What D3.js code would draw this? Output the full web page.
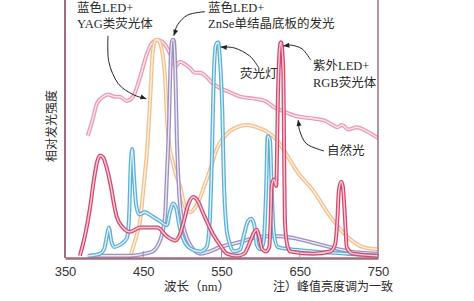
<!DOCTYPE html>
<html>
<head>
<meta charset="utf-8">
<script src="https://cdn.jsdelivr.net/npm/d3@7/dist/d3.min.js"></script>
<style>
  body { margin: 0; background: #fff; }
  svg { display: block; }
</style>
</head>
<body>
<svg id="chart" width="474" height="301"></svg>
<script>
// wavelength (nm), relative intensity (peak = 1)
var xTicks = [350, 450, 550, 650, 750];

var naturalLight = [[379,0.56],[385,0.63],[391,0.71],[399,0.74],[405,0.75],[414,0.74],[420,0.74],[429,0.72],
  [437,0.74],[446,0.83],[455,0.94],[462,0.99],[468,1.00],[475,0.99],[484,0.94],[491,0.88],[497,0.90],[503,0.89],
  [510,0.87],[516,0.85],[523,0.85],[531,0.83],[539,0.80],[548,0.78],[561,0.76],[574,0.74],[593,0.73],[606,0.72],
  [618,0.69],[631,0.67],[646,0.65],[667,0.64],[682,0.63],[692,0.61],[698,0.60],[704,0.61],[712,0.59],[723,0.60],
  [736,0.58],[750,0.55]];

var yagLed = [[433,0.00],[437,0.05],[442,0.11],[446,0.17],[450,0.31],[455,0.50],[459,0.74],[462,0.94],[466,1.00],
  [469,1.00],[472,0.98],[475,0.93],[478,0.82],[480,0.66],[483,0.52],[487,0.45],[492,0.38],[497,0.33],[503,0.24],
  [510,0.21],[516,0.23],[523,0.28],[529,0.34],[535,0.40],[544,0.50],[557,0.57],[570,0.60],[583,0.61],[595,0.60],
  [608,0.58],[621,0.54],[634,0.47],[646,0.40],[667,0.31],[689,0.19],[710,0.10],[731,0.05],[749,0.04]];

var znseLed = [[379,0.01],[408,0.01],[433,0.01],[452,0.02],[462,0.03],[469,0.06],[474,0.11],[478,0.20],[480,0.36],
  [483,0.63],[485,0.91],[487,1.00],[489,1.00],[491,0.86],[493,0.54],[496,0.29],[500,0.17],[506,0.09],[514,0.04],
  [523,0.02],[535,0.03],[548,0.05],[570,0.07],[590,0.09],[606,0.10],[625,0.10],[644,0.09],[667,0.07],[689,0.05],
  [714,0.03],[749,0.02]];

var fluorescent = [[382,0.01],[395,0.02],[400,0.04],[404,0.11],[406,0.14],[409,0.08],[413,0.05],[420,0.06],
  [429,0.09],[432,0.20],[434,0.43],[436,0.50],[438,0.38],[441,0.24],[445,0.20],[452,0.21],[462,0.19],[471,0.17],
  [480,0.15],[484,0.21],[488,0.25],[492,0.23],[496,0.15],[502,0.08],[512,0.04],[523,0.03],[531,0.05],[535,0.17],
  [538,0.50],[540,0.82],[543,0.98],[546,0.99],[548,0.91],[551,0.68],[553,0.36],[556,0.15],[560,0.07],[566,0.03],
  [574,0.04],[579,0.11],[584,0.17],[588,0.18],[592,0.15],[595,0.06],[600,0.04],[604,0.08],[607,0.31],[609,0.56],
  [612,0.54],[614,0.33],[617,0.11],[622,0.05],[638,0.04],[667,0.03],[710,0.02],[749,0.01]];

var uvRgbLed = [[369,0.01],[376,0.11],[382,0.23],[387,0.36],[391,0.44],[395,0.47],[399,0.46],[402,0.43],[408,0.34],
  [413,0.24],[416,0.19],[424,0.14],[433,0.12],[446,0.14],[455,0.14],[468,0.14],[480,0.10],[491,0.08],[497,0.11],
  [502,0.17],[507,0.24],[514,0.28],[520,0.26],[526,0.21],[531,0.17],[539,0.11],[548,0.06],[557,0.02],[570,0.01],
  [579,0.02],[586,0.07],[592,0.12],[595,0.13],[598,0.10],[602,0.04],[607,0.03],[611,0.05],[613,0.20],[614,0.33],
  [617,0.36],[620,0.33],[621,0.50],[622,0.72],[625,0.98],[626,0.99],[629,0.86],[630,0.50],[631,0.17],[634,0.06],
  [638,0.03],[667,0.02],[689,0.03],[695,0.06],[698,0.17],[700,0.31],[703,0.35],[705,0.33],[708,0.17],[710,0.05],
  [718,0.02],[749,0.01]];

// leader lines for the callouts, same units as the data
var arrowYag = [[405,1.02],[406,0.90],[418,0.80],[437,0.75],[454,0.73]];
var arrowZnse = [[529,1.13],[507,1.115],[494,1.07],[489,1.02]];
var arrowLamp = [[597,0.876],[586,0.927],[567,0.963],[549,0.968]];
var arrowUv = [[664,0.908],[653,0.959],[638,0.977],[629,0.972]];
var arrowSun = [[681,0.491],[659,0.523],[650,0.583],[648,0.633]];

var series = [
  {data: naturalLight, outer: "#e89bb3", inner: "#fbe6ed"},
  {data: yagLed, outer: "#f1c08e", inner: "#fdf1e2"},
  {data: znseLed, outer: "#9d90c2", inner: "#ece8f5"},
  {data: fluorescent, outer: "#5db0d6", inner: "#dcf1fa"},
  {data: uvRgbLed, outer: "#d6496f", inner: "#f8cfdb"}
];

var svg = d3.select("#chart");
var font = "'Liberation Serif', 'Noto Sans CJK SC', serif";
var sans = "'Liberation Sans', Arial, sans-serif";

var x = d3.scaleLinear().domain([350, 750]).range([65, 378]);
var y = d3.scaleLinear().domain([0, 1]).range([258, 40]);

var line = d3.line()
  .x(function (d) { return x(d[0]); })
  .y(function (d) { return y(d[1]); })
  .curve(d3.curveMonotoneX);

var plot = svg.append("g");

series.forEach(function (s) {
  plot.append("path")
    .attr("d", line(s.data))
    .attr("fill", "none")
    .attr("stroke", s.outer)
    .attr("stroke-width", 4)
    .attr("stroke-linejoin", "round");
  plot.append("path")
    .attr("d", line(s.data))
    .attr("fill", "none")
    .attr("stroke", s.inner)
    .attr("stroke-width", 1.4)
    .attr("stroke-linejoin", "round");
});

// frame
var axisColor = "#9e6e7d";
svg.append("line").attr("x1", x(350)).attr("x2", x(350)).attr("y1", 0).attr("y2", y(0))
  .attr("stroke", axisColor).attr("stroke-width", 2);
svg.append("line").attr("x1", x(750)).attr("x2", x(750)).attr("y1", 0).attr("y2", y(0))
  .attr("stroke", axisColor).attr("stroke-width", 1.5);

var xAxis = d3.axisBottom(x).tickValues(xTicks).tickSize(0).tickPadding(9);
var gx = svg.append("g").attr("transform", "translate(0," + y(0) + ")").call(xAxis);
gx.select(".domain").attr("stroke", axisColor).attr("stroke-width", 2.6);
gx.selectAll("text").attr("font-family", sans).attr("font-size", 13).attr("fill", "#333");

// small inner ticks
svg.selectAll(".itick").data(xTicks.slice(1, 4)).enter().append("line")
  .attr("x1", function (d) { return x(d); }).attr("x2", function (d) { return x(d); })
  .attr("y1", y(0) - 1).attr("y2", y(0) - 7)
  .attr("stroke", "#8f8f9f").attr("stroke-width", 1);

// callout leaders
var leader = d3.line()
  .x(function (d) { return x(d[0]); })
  .y(function (d) { return y(d[1]); })
  .curve(d3.curveCardinal);

[arrowYag, arrowZnse, arrowLamp, arrowUv, arrowSun].forEach(function (pts) {
  svg.append("path").attr("d", leader(pts)).attr("fill", "none")
    .attr("stroke", "#222").attr("stroke-width", 1);
  var a = pts[pts.length - 2], b = pts[pts.length - 1];
  var ang = Math.atan2(y(b[1]) - y(a[1]), x(b[0]) - x(a[0])) * 180 / Math.PI;
  svg.append("path").attr("d", "M0,0L-6,-2.5L-6,2.5Z").attr("fill", "#222")
    .attr("transform", "translate(" + x(b[0]) + "," + y(b[1]) + ") rotate(" + ang + ")");
});

// labels
var labels = [
  {t: "蓝色LED+", x: 77, y: 12},
  {t: "YAG类荧光体", x: 77, y: 28},
  {t: "蓝色LED+", x: 208, y: 12},
  {t: "ZnSe单结晶底板的发光", x: 208, y: 28},
  {t: "荧光灯", x: 240, y: 78},
  {t: "紫外LED+", x: 313, y: 70},
  {t: "RGB荧光体", x: 313, y: 87},
  {t: "自然光", x: 327, y: 155}
];
svg.selectAll(".lbl").data(labels).enter().append("text")
  .attr("x", function (d) { return d.x; }).attr("y", function (d) { return d.y; })
  .attr("font-family", font).attr("font-size", 12.5).attr("fill", "#2a2a2a")
  .text(function (d) { return d.t; });

svg.append("text")
  .attr("transform", "translate(56,126) rotate(-90)")
  .attr("text-anchor", "middle")
  .attr("font-family", font).attr("font-size", 12).attr("fill", "#2a2a2a")
  .text("相对发光强度");

svg.append("text").attr("x", 197).attr("y", 291).attr("text-anchor", "middle")
  .attr("font-family", font).attr("font-size", 12.5).attr("fill", "#2a2a2a")
  .text("波长（nm）");

svg.append("text").attr("x", 273).attr("y", 291)
  .attr("font-family", font).attr("font-size", 12).attr("fill", "#2a2a2a")
  .text("注）峰值亮度调为一致");
</script>
</body>
</html>
